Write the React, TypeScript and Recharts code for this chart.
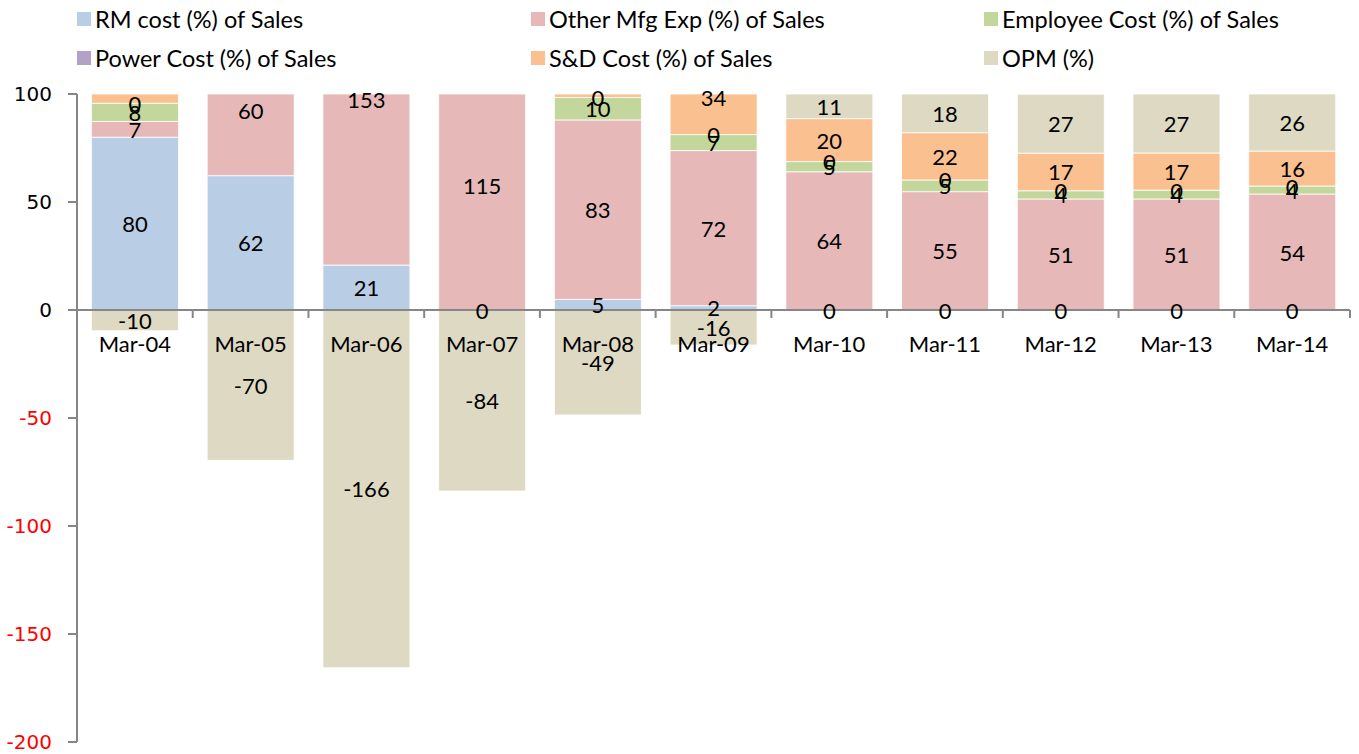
import React from 'react';
import { BarChart, Bar, XAxis, YAxis, ReferenceLine, LabelList } from 'recharts';

const categories = ['Mar-04', 'Mar-05', 'Mar-06', 'Mar-07', 'Mar-08', 'Mar-09', 'Mar-10', 'Mar-11', 'Mar-12', 'Mar-13', 'Mar-14'];
const rmCost = [80, 62.2, 20.8, 0, 4.9, 2, 0, 0, 0, 0, 0];
const otherMfg = [7.3, 60, 153, 115, 83.1, 71.8, 64, 54.8, 51.4, 51.4, 53.7];
const employeeCost = [8.4, 18, 40, 30, 10.4, 7.4, 4.7, 5.4, 3.8, 4.1, 3.7];
const powerCost = [0, 0, 0, 0, 0, 0, 0, 0, 0, 0, 0];
const sdCost = [14.3, 30, 52, 39, 50, 34, 19.9, 21.9, 17.4, 17.2, 16.2];
const opm = [-9.6, -69.6, -165.6, -83.8, -48.6, -16.2, 11.4, 17.9, 27.3, 27.3, 26.4];
const yTicks = [-200, -150, -100, -50, 0, 50, 100];

const seriesDefs = [
  { key: 'rm', name: 'RM cost (%) of Sales', color: '#B9CDE5', values: rmCost },
  { key: 'other', name: 'Other Mfg Exp (%) of Sales', color: '#E6B9B8', values: otherMfg },
  { key: 'emp', name: 'Employee Cost (%) of Sales', color: '#C3D69B', values: employeeCost },
  { key: 'power', name: 'Power Cost (%) of Sales', color: '#B3A2C7', values: powerCost },
  { key: 'sd', name: 'S&D Cost (%) of Sales', color: '#FAC090', values: sdCost },
  { key: 'opm', name: 'OPM (%)', color: '#DDD9C3', values: opm },
];

const data = categories.map((name, i) => {
  const row: Record<string, any> = { name };
  seriesDefs.forEach((s) => {
    row[s.key] = s.values[i];
  });
  return row;
});

const W = 1359;
const H = 754;
const PLOT_LEFT = 77;
const PLOT_TOP = 94;
const PLOT_BOTTOM = 742;
const PLOT_RIGHT = 1350;
const PLOT_H = PLOT_BOTTOM - PLOT_TOP;
const Y_MIN = -200;
const Y_MAX = 100;
const valueToY = (v: number) => PLOT_TOP + ((Y_MAX - v) * PLOT_H) / (Y_MAX - Y_MIN);
const ZERO_Y = valueToY(0);
const HALF_BAND = (PLOT_RIGHT - PLOT_LEFT) / categories.length / 2;

const LABEL_FONT = 'Lato, "Open Sans", sans-serif';
const LABEL_SIZE = 22;

// Excel-like data labels: placed at the centre of each (unclipped) stacked segment,
// hidden when that centre lies outside the value axis range.
const renderCategoryLabels = (props: any) => {
  const vb = props.viewBox || props;
  const x = Number(vb.x);
  const w = Number(vb.width);
  const i = categories.indexOf(String(props.value));
  if (i < 0 || Number.isNaN(x) || Number.isNaN(w)) return null;
  const cx = x + w / 2;
  let pos = 0;
  let neg = 0;
  const out: React.ReactNode[] = [];
  seriesDefs.forEach((s) => {
    const v = s.values[i];
    let centre: number;
    if (v >= 0) {
      centre = pos + v / 2;
      pos += v;
    } else {
      centre = neg + v / 2;
      neg += v;
    }
    if (centre > Y_MAX || centre < Y_MIN) return;
    out.push(
      <text
        key={s.key}
        x={cx}
        y={valueToY(centre)}
        textAnchor="middle"
        dominantBaseline="central"
        fontFamily={LABEL_FONT}
        fontSize={LABEL_SIZE}
        fill="#000"
      >
        {Math.round(v)}
      </text>
    );
  });
  return <g>{out}</g>;
};

const XTick = (props: any) => {
  const { x, payload, index } = props;
  const isLast = index === categories.length - 1;
  return (
    <g>
      <line x1={x - HALF_BAND} y1={ZERO_Y} x2={x - HALF_BAND} y2={ZERO_Y + 8} stroke="#868686" strokeWidth={2} />
      {isLast && (
        <line x1={x + HALF_BAND} y1={ZERO_Y} x2={x + HALF_BAND} y2={ZERO_Y + 8} stroke="#868686" strokeWidth={2} />
      )}
      <text
        x={x}
        y={ZERO_Y + 33}
        textAnchor="middle"
        dominantBaseline="central"
        fontFamily={LABEL_FONT}
        fontSize={LABEL_SIZE}
        fill="#000"
      >
        {payload.value}
      </text>
    </g>
  );
};

const YTick = (props: any) => {
  const { x, y, payload } = props;
  const v = Number(payload.value);
  return (
    <text
      x={x}
      y={y}
      textAnchor="end"
      dominantBaseline="central"
      fontFamily='"DejaVu Sans", Verdana, sans-serif'
      fontSize={20}
      fill={v < 0 ? '#FF0000' : '#000'}
    >
      {v}
    </text>
  );
};

const legendPos = [
  { sx: 77, tx: 95, y: 19 },
  { sx: 531, tx: 549, y: 19 },
  { sx: 984, tx: 1002, y: 19 },
  { sx: 77, tx: 95, y: 58 },
  { sx: 531, tx: 549, y: 58 },
  { sx: 984, tx: 1002, y: 58 },
];

export default function App() {
  return (
    <div style={{ position: 'absolute', left: 0, top: 0, width: W, height: H, background: '#fff' }}>
      {seriesDefs.map((s, i) => (
        <React.Fragment key={s.key}>
          <div
            style={{
              position: 'absolute',
              left: legendPos[i].sx,
              top: legendPos[i].y - 7,
              width: 14,
              height: 14,
              background: s.color,
            }}
          />
          <div
            style={{
              position: 'absolute',
              left: legendPos[i].tx,
              top: legendPos[i].y - 15,
              height: 30,
              lineHeight: '30px',
              fontFamily: LABEL_FONT,
              fontSize: 23.5,
              color: '#000',
              whiteSpace: 'nowrap',
            }}
          >
            {s.name}
          </div>
        </React.Fragment>
      ))}
      <div style={{ position: 'absolute', left: 0, top: 0 }}>
        <BarChart
          width={W}
          height={H}
          data={data}
          stackOffset="sign"
          barCategoryGap="12.5%"
          margin={{ top: PLOT_TOP, right: W - PLOT_RIGHT, bottom: H - PLOT_BOTTOM - 1, left: 0 }}
        >
          <XAxis dataKey="name" height={1} axisLine={false} tickLine={false} tick={<XTick />} interval={0} />
          <YAxis
            width={PLOT_LEFT}
            domain={[Y_MIN, Y_MAX]}
            ticks={yTicks}
            allowDataOverflow
            interval={0}
            tickSize={9}
            tickMargin={16}
            axisLine={{ stroke: '#868686', strokeWidth: 2 }}
            tickLine={{ stroke: '#868686', strokeWidth: 2 }}
            tick={<YTick />}
          />
          {seriesDefs.map((s) => (
            <Bar
              key={s.key}
              dataKey={s.key}
              name={s.name}
              stackId="a"
              fill={s.color}
              stroke="#ffffff"
              strokeWidth={0.8}
              isAnimationActive={false}
            >
              {s.key === 'opm' && <LabelList dataKey="name" content={renderCategoryLabels} />}
            </Bar>
          ))}
          <ReferenceLine y={0} stroke="#868686" strokeWidth={2} ifOverflow="visible" />
        </BarChart>
      </div>
    </div>
  );
}
